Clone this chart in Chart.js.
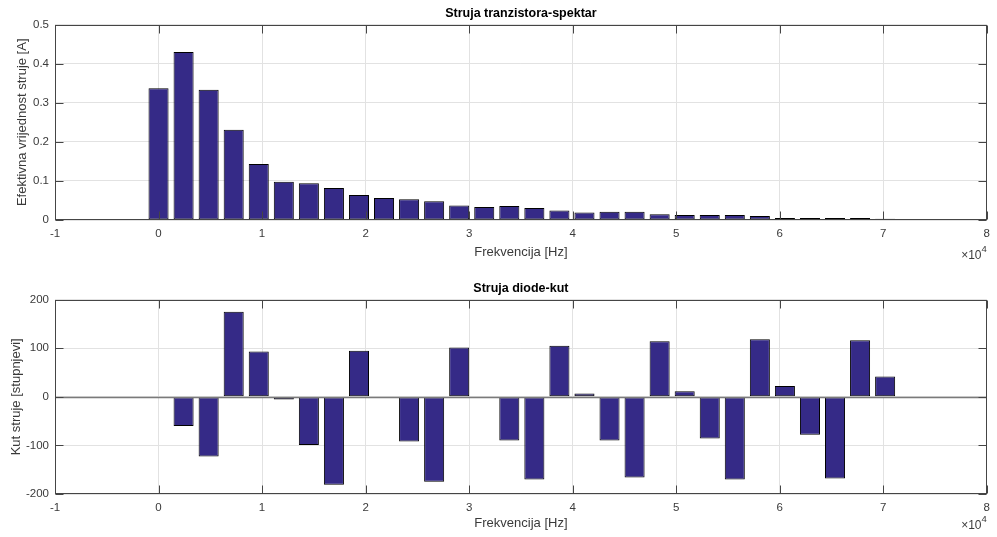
<!DOCTYPE html>
<html><head><meta charset="utf-8">
<script src="https://cdn.jsdelivr.net/npm/chart.js@4/dist/chart.umd.min.js"></script>
<style>
html,body{margin:0;padding:0;background:#fff;}
#wrap{position:relative;width:997px;height:537px;overflow:hidden;background:#fff;}
canvas{position:absolute;left:0;}
</style></head><body>
<div id="wrap">
<canvas id="c1" width="997" height="268" style="top:0px"></canvas>
<canvas id="c2" width="997" height="269" style="top:268px"></canvas>
</div>
<script>
// ---- data ----
const frequencies = [0, 2420, 4840, 7260, 9680, 12100, 14520, 16940, 19360, 21780, 24200, 26620, 29040, 31460, 33880, 36300, 38720, 41140, 43560, 45980, 48400, 50820, 53240, 55660, 58080, 60500, 62920, 65340, 67760, 70180];
const rmsCurrent = [0.337, 0.430, 0.333, 0.231, 0.143, 0.098, 0.094, 0.082, 0.064, 0.056, 0.053, 0.048, 0.037, 0.033, 0.036, 0.031, 0.024, 0.0195, 0.021, 0.021, 0.015, 0.013, 0.013, 0.013, 0.010, 0.005, 0.005, 0.005, 0.005, 0.0035];
const phaseDeg = [0, -60, -123, 175, 93, -5.5, -99, -181, 95, -2, -92, -175, 101.5, -2, -90, -170, 105, 7, -90, -166, 114.5, 11.5, -86, -170, 118.5, 22, -78, -168, 116.5, 42];
const xTickLabels = ['-1','0','1','2','3','4','5','6','7','8'];
const yTickLabelsTop = ['0','0.1','0.2','0.3','0.4','0.5'];
const yTickLabelsBottom = ['-200','-100','0','100','200'];
const titleTop = 'Struja tranzistora-spektar';
const titleBottom = 'Struja diode-kut';
const xTitle = 'Frekvencija [Hz]';
const yTitleTop = 'Efektivna vrijednost struje [A]';
const yTitleBottom = 'Kut struje [stupnjevi]';
const xExponent = '4';

// ---- styles ----
const FONT = "'Liberation Sans', Arial, Helvetica, sans-serif";
const AXIS = '#454545';
const TICKTXT = '#3a3a3a';
const GRID = '#e2e2e2';
const BAR = '#352a87';
const TL = 8;

const matlabAxes = {
  id: 'matlabAxes',
  afterDatasetsDraw(chart, args, opts) {
    const {ctx, chartArea: a, scales: {x, y}} = chart;
    ctx.save();
    const line = (x1, y1, x2, y2) => { ctx.beginPath(); ctx.moveTo(x1, y1); ctx.lineTo(x2, y2); ctx.stroke(); };
    if (opts.baseline) {
      const yz = Math.round(y.getPixelForValue(0)) + 0.5;
      ctx.strokeStyle = '#7a7a7a'; ctx.lineWidth = 1.3;
      line(a.left, yz, a.right, yz);
    }
    ctx.strokeStyle = AXIS; ctx.lineWidth = 1;
    const L = Math.round(a.left) + 0.5, R = Math.round(a.right) - 0.5;
    const T = Math.round(a.top) + 0.5, B = Math.round(a.bottom) - 0.5;
    ctx.strokeRect(L, T, R - L, B - T);
    x.ticks.forEach(t => {
      const px = Math.round(x.getPixelForValue(t.value)) + 0.5;
      line(px, T, px, T + TL); line(px, B, px, B - TL);
    });
    y.ticks.forEach(t => {
      const py = Math.round(y.getPixelForValue(t.value)) + 0.5;
      line(L, py, L + TL, py); line(R, py, R - TL, py);
    });
    // x10^4 exponent label
    ctx.fillStyle = TICKTXT;
    ctx.textBaseline = 'middle';
    ctx.textAlign = 'right';
    ctx.font = '9.5px ' + FONT;
    const ew = ctx.measureText(xExponent).width;
    ctx.fillText(xExponent, a.right, opts.expY - 7);
    ctx.font = '12px ' + FONT;
    ctx.fillText('\u00d710', a.right - ew, opts.expY);
    ctx.restore();
  }
};

function makeChart(id, values, cfg) {
  return new Chart(document.getElementById(id), {
    type: 'bar',
    data: {
      datasets: [{
        data: frequencies.map((f, i) => ({x: f, y: values[i]})),
        backgroundColor: BAR,
        borderColor: '#000000',
        borderWidth: 1,
        borderSkipped: false,
        inflateAmount: 0,
        barPercentage: 1,
        categoryPercentage: 0.8
      }]
    },
    options: {
      responsive: false,
      animation: false,
      devicePixelRatio: 1,
      layout: {padding: {left: 0, right: 5, top: 0, bottom: 0}},
      plugins: {
        legend: {display: false},
        tooltip: {enabled: false},
        title: {
          display: true, text: cfg.title, fullSize: false, color: '#000',
          font: {family: FONT, size: 12.5, weight: 'bold'},
          padding: {top: cfg.titlePadTop, bottom: cfg.titlePadBottom}
        },
        matlabAxes: {baseline: cfg.baseline, expY: cfg.expY}
      },
      scales: {
        x: {
          type: 'linear', offset: false,
          min: -10000, max: 80000,
          grid: {offset: false, color: GRID, drawTicks: false},
          border: {display: false},
          ticks: {
            stepSize: 10000, autoSkip: false, maxRotation: 0, padding: 7,
            color: TICKTXT, font: {family: FONT, size: 11.5},
            callback: (v, i) => xTickLabels[i]
          },
          title: {display: true, text: xTitle, color: TICKTXT,
            font: {family: FONT, size: 13}, padding: {top: 0, bottom: cfg.xTitlePad}},
          afterFit: s => { s.height = cfg.xHeight; }
        },
        y: {
          min: cfg.yMin, max: cfg.yMax,
          grid: {color: GRID, drawTicks: false},
          border: {display: false},
          ticks: {
            stepSize: cfg.yStep, padding: 6,
            color: TICKTXT, font: {family: FONT, size: 11.5},
            callback: (v, i) => cfg.yLabels[i]
          },
          title: {display: true, text: cfg.yTitle, color: TICKTXT,
            font: {family: FONT, size: 13}, padding: {top: cfg.yTitlePad, bottom: 0}},
          afterFit: s => { s.width = 55; }
        }
      }
    },
    plugins: [matlabAxes]
  });
}

makeChart('c1', rmsCurrent, {
  title: titleTop, titlePadTop: 5.8, titlePadBottom: 3.8,
  xHeight: 48, xTitlePad: 8.2, expY: 256,
  yMin: 0, yMax: 0.5, yStep: 0.1, yLabels: yTickLabelsTop,
  yTitle: yTitleTop, yTitlePad: 14.7, baseline: false
});
makeChart('c2', phaseDeg, {
  title: titleBottom, titlePadTop: 12.8, titlePadBottom: 3.8,
  xHeight: 43, xTitlePad: 6.2, expY: 258,
  yMin: -200, yMax: 200, yStep: 100, yLabels: yTickLabelsBottom,
  yTitle: yTitleBottom, yTitlePad: 8.2, baseline: true
});
</script>
</body></html>
